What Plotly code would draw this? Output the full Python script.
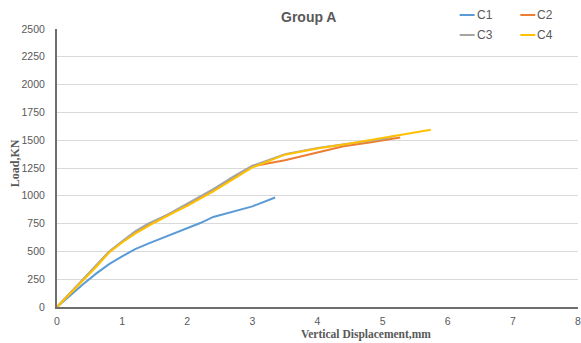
import plotly.graph_objects as go

# Load–displacement readings for the four columns of group A
c1_disp = [0, 0.2, 0.4, 0.6, 0.8, 1.0, 1.2, 1.4, 1.7, 2.0, 2.2, 2.4, 2.7, 3.0, 3.35]
c1_load = [0, 105, 205, 300, 385, 455, 520, 570, 640, 715, 755, 810, 860, 905, 985]

c2_disp = [0, 0.2, 0.4, 0.6, 0.8, 1.0, 1.2, 1.5, 1.8, 2.0, 2.4, 2.7, 3.0, 3.5, 4.0, 4.4, 4.8, 5.27]
c2_load = [0, 120, 245, 365, 495, 585, 665, 770, 860, 920, 1050, 1160, 1265, 1320, 1390, 1445, 1480, 1525]

c3_disp = [0, 0.2, 0.4, 0.6, 0.8, 1.0, 1.2, 1.4, 1.7, 2.0, 2.4, 2.7, 3.0, 3.5, 4.0, 4.5, 5.0, 5.2]
c3_load = [0, 125, 250, 370, 500, 590, 680, 750, 830, 930, 1060, 1170, 1270, 1375, 1430, 1470, 1510, 1540]

c4_disp = [0, 0.2, 0.4, 0.6, 0.8, 1.0, 1.2, 1.5, 1.8, 2.0, 2.4, 2.7, 3.0, 3.5, 4.0, 4.5, 5.0, 5.74]
c4_load = [0, 120, 240, 360, 490, 580, 660, 760, 850, 910, 1040, 1150, 1255, 1370, 1425, 1470, 1520, 1595]

names = ["C1", "C2", "C3", "C4"]
colors = ["#5B9BD5", "#ED7D31", "#A5A5A5", "#FFC000"]
series = [(c1_disp, c1_load), (c2_disp, c2_load), (c3_disp, c3_load), (c4_disp, c4_load)]

x_ticks = [0, 1, 2, 3, 4, 5, 6, 7, 8]
y_ticks = [0, 250, 500, 750, 1000, 1250, 1500, 1750, 2000, 2250, 2500]

W, H = 581, 343
L, R, T, B = 57, 0, 29, 36
pw, ph = W - L - R, H - T - B


def px(xp):
    return (xp - L) / pw


def py(yp):
    return (H - B - yp) / ph


fig = go.Figure()
for name, color, (xs, ys) in zip(names, colors, series):
    fig.add_trace(go.Scatter(x=xs, y=ys, mode="lines", name=name,
                             line=dict(color=color, width=2), showlegend=False))

# Compact two-row legend at top right
legend_pos = [(462, 15), (523, 15), (462, 35), (523, 35)]
for name, color, (lx, ly) in zip(names, colors, legend_pos):
    fig.add_shape(type="line", xref="paper", yref="paper",
                  x0=px(lx), x1=px(lx + 15), y0=py(ly), y1=py(ly),
                  line=dict(color=color, width=2))
    fig.add_annotation(xref="paper", yref="paper", x=px(lx + 15), y=py(ly),
                       text=name, showarrow=False, xanchor="left", yanchor="middle",
                       font=dict(family="Liberation Sans", size=12, color="#595959"))

# Title and axis titles
fig.add_annotation(xref="paper", yref="paper", x=px(310), y=py(17),
                   text="<b>Group A</b>", showarrow=False,
                   xanchor="center", yanchor="middle",
                   font=dict(family="Liberation Sans", size=14, color="#595959"))
fig.add_annotation(xref="paper", yref="paper", x=px(368), y=py(334),
                   text="<b>Vertical Displacement,mm</b>", showarrow=False,
                   xanchor="center", yanchor="middle",
                   font=dict(family="Liberation Serif", size=11.5, color="#595959"))
fig.add_annotation(xref="paper", yref="paper", x=px(15), y=py(163),
                   text="<b>Load,KN</b>", showarrow=False, textangle=-90,
                   xanchor="center", yanchor="middle",
                   font=dict(family="Liberation Serif", size=12, color="#595959"))

fig.update_layout(
    width=W, height=H,
    margin=dict(l=L, r=R, t=T, b=B),
    paper_bgcolor="white", plot_bgcolor="white",
    xaxis=dict(range=[0, 8], tickvals=x_ticks, ticktext=[str(v) for v in x_ticks],
               showgrid=False, zeroline=False, showline=True, linecolor="#6e6e6e",
               linewidth=2, ticks="", ticklabelstandoff=3, ticklabeloverflow="allow",
               tickfont=dict(family="Liberation Sans", size=10.5, color="#595959")),
    yaxis=dict(range=[0, 2500], tickvals=y_ticks, ticktext=[str(v) for v in y_ticks],
               showgrid=True, gridcolor="#D9D9D9", gridwidth=1, zeroline=False,
               showline=True, linecolor="#6e6e6e", linewidth=2, ticks="",
               ticklabelstandoff=8,
               tickfont=dict(family="Liberation Sans", size=10.5, color="#595959")),
)

fig.write_html("out.html")
